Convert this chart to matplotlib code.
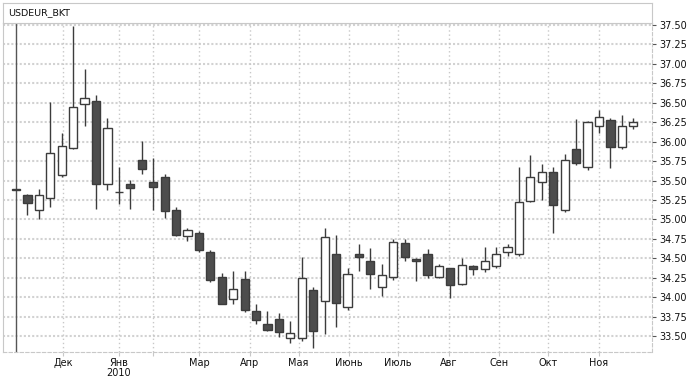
import matplotlib
matplotlib.use("Agg")
import matplotlib.pyplot as plt
import pandas as pd
import numpy as np

title = "USDEUR_BKT"

# weekly candles (week start dates), Russian holiday week of 2010-01-04 absent
week_dates = [d for d in pd.date_range("2009-11-02", "2010-11-22", freq="7D")
              if d != pd.Timestamp("2010-01-04")]

opens = [35.39, 35.31, 35.12, 35.27, 35.57, 35.92, 36.49, 36.52, 35.45, 35.35,
         35.455, 35.76, 35.48, 35.545, 35.12, 34.78, 34.825, 34.58, 34.26, 33.97,
         34.23, 33.82, 33.655, 33.72, 33.47, 33.47, 34.09, 33.95, 34.55, 33.87,
         34.56, 34.46, 34.13, 34.255, 34.69, 34.49, 34.55, 34.26, 34.37, 34.17,
         34.40, 34.36, 34.40, 34.575, 34.55, 35.23, 35.48, 35.605, 35.12, 35.90,
         35.67, 36.205, 36.275, 35.935, 36.20]
highs = [35.39, 35.33, 35.39, 36.51, 36.11, 37.49, 36.93, 36.60, 36.30, 35.68,
         35.51, 36.01, 35.79, 35.58, 35.16, 34.89, 34.85, 34.60, 34.31, 34.34,
         34.33, 33.91, 33.82, 33.80, 33.69, 34.51, 34.13, 34.885, 34.80, 34.37,
         34.68, 34.63, 34.42, 34.75, 34.75, 34.50, 34.62, 34.42, 34.38, 34.50,
         34.41, 34.645, 34.65, 34.68, 35.67, 35.83, 35.71, 35.68, 35.84, 36.29,
         36.265, 36.41, 36.31, 36.34, 36.30]
lows = [35.375, 35.06, 35.00, 35.16, 35.54, 35.91, 36.20, 35.13, 35.38, 35.20,
        35.13, 35.59, 35.12, 35.02, 34.78, 34.72, 34.58, 34.20, 33.91, 33.915,
        33.81, 33.66, 33.57, 33.49, 33.41, 33.43, 33.35, 33.52, 33.62, 33.84,
        34.34, 34.11, 34.01, 34.22, 34.46, 34.21, 34.25, 34.24, 33.99, 34.16,
        34.28, 34.32, 34.375, 34.53, 34.53, 35.22, 35.25, 34.83, 35.09, 35.70,
        35.64, 36.11, 35.66, 35.90, 36.16]
closes = [35.375, 35.21, 35.31, 35.86, 35.95, 36.44, 36.56, 35.45, 36.18, 35.35,
          35.41, 35.65, 35.42, 35.11, 34.80, 34.86, 34.61, 34.22, 33.915, 34.11,
          33.83, 33.70, 33.58, 33.55, 33.535, 34.24, 33.57, 34.77, 33.93, 34.30,
          34.52, 34.30, 34.29, 34.705, 34.52, 34.47, 34.28, 34.40, 34.15, 34.41,
          34.36, 34.465, 34.56, 34.65, 35.22, 35.545, 35.605, 35.18, 35.77, 35.72,
          36.25, 36.32, 35.935, 36.205, 36.255]

month_tick_dates = ["2009-12-01", "2010-01-11", "2010-02-01", "2010-03-01", "2010-04-01",
                    "2010-05-01", "2010-06-01", "2010-07-01", "2010-08-01", "2010-09-01",
                    "2010-10-01", "2010-11-01"]
month_labels = ["Дек", "Янв\n2010", "", "Мар", "Апр", "Мая", "Июнь", "Июль", "Авг",
                "Сен", "Окт", "Ноя"]
y_ticks = [33.50, 33.75, 34.00, 34.25, 34.50, 34.75, 35.00, 35.25, 35.50, 35.75,
           36.00, 36.25, 36.50, 36.75, 37.00, 37.25, 37.50]


def date_pos(d):
    d = pd.Timestamp(d)
    idx = max(i for i, w in enumerate(week_dates) if w <= d)
    return idx + (d - week_dates[idx]).days / 7.0


W, H = 688, 378
fig = plt.figure(figsize=(W / 100, H / 100), dpi=100)
frame_col = "#c8c8c8"
dark = "#3c3c3c"

L, R, B, T, T2 = 3, 652, 352, 22.7, 3
ax = fig.add_axes([L / W, (H - B) / H, (R - L) / W, (B - T) / H])
tax = fig.add_axes([L / W, (H - T) / H, (R - L) / W, (T - T2) / H])
tax.set_xticks([]); tax.set_yticks([])
for s in tax.spines.values():
    s.set_color(frame_col)
tax.text(0.008, 0.5, title, transform=tax.transAxes, va="center", ha="left",
         fontsize=6.8, color="#111111")

x = np.arange(len(opens))
ax.set_xlim(-1.14, 55.64)
ax.set_ylim(33.294, 37.53)

for s in ax.spines.values():
    s.set_color(frame_col)
ax.spines["bottom"].set_linestyle((0, (3, 2)))
ax.spines["right"].set_linestyle((0, (3, 2)))

# grid
for yv in y_ticks:
    ax.axhline(yv, color="#d2d2d2", lw=1.5, ls=(0, (1, 1)), zorder=0)
tick_pos = [date_pos(d) for d in month_tick_dates]
for xp in tick_pos:
    ax.axvline(xp, color="#c8c8c8", lw=1.0, ls=(0, (1, 2)), zorder=0)

# separator line at first candle
ax.axvline(x[0], color="#555555", lw=1.0, zorder=1)

o = np.array(opens); c = np.array(closes)
hi = np.array(highs); lo = np.array(lows)
ax.vlines(x, lo, hi, color=dark, lw=1.0, zorder=2)
up = c >= o
bottoms = np.minimum(o, c)
heights = np.abs(c - o)
ax.bar(x[up], heights[up], bottom=bottoms[up], width=0.72, color="white",
       edgecolor=dark, linewidth=1.0, zorder=3)
ax.bar(x[~up], heights[~up], bottom=bottoms[~up], width=0.72, color="#4d4d4d",
       edgecolor=dark, linewidth=1.0, zorder=3)

ax.yaxis.tick_right()
ax.set_yticks(y_ticks)
ax.set_yticklabels([f"{v:.2f}" for v in y_ticks])
ax.tick_params(axis="y", length=3, width=0.8, color="#555555", pad=2,
               labelsize=7, labelcolor="#111111")
ax.set_xticks(tick_pos)
ax.set_xticklabels(month_labels)
ax.tick_params(axis="x", length=3, width=0.8, color=frame_col, pad=1.5,
               labelsize=7, labelcolor="#111111")
for lab in ax.get_xticklabels():
    lab.set_linespacing(0.95)

fig.savefig("out.png", dpi=100)
